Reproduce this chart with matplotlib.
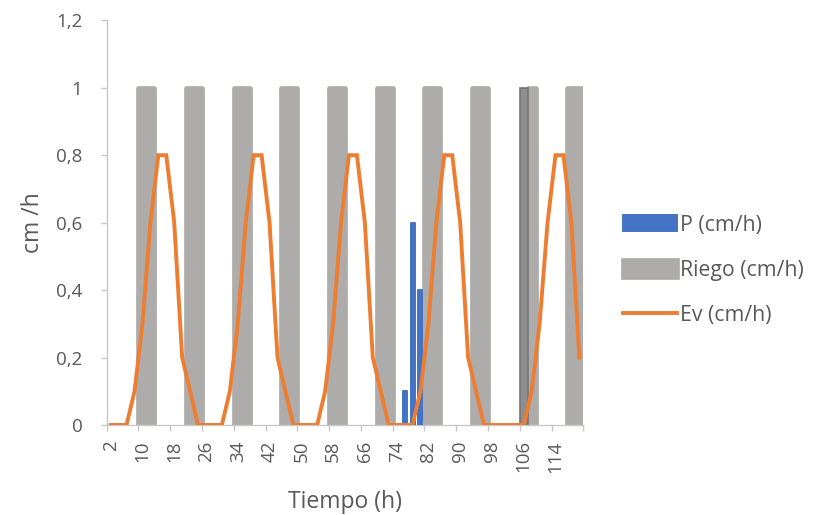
import numpy as np
import matplotlib
matplotlib.use("Agg")
import matplotlib.pyplot as plt
from matplotlib.ticker import FixedLocator, FuncFormatter

plt.rcParams['font.family'] = ['Open Sans', 'DejaVu Sans']

# Tiempo (h): one category every 2 h
tiempo = [2, 4, 6, 8, 10, 12, 14, 16, 18, 20, 22, 24,
          26, 28, 30, 32, 34, 36, 38, 40, 42, 44, 46, 48,
          50, 52, 54, 56, 58, 60, 62, 64, 66, 68, 70, 72,
          74, 76, 78, 80, 82, 84, 86, 88, 90, 92, 94, 96,
          98, 100, 102, 104, 106, 108, 110, 112, 114, 116, 118, 120]

p_cmh = [0, 0, 0, 0, 0, 0, 0, 0, 0, 0, 0, 0,
         0, 0, 0, 0, 0, 0, 0, 0, 0, 0, 0, 0,
         0, 0, 0, 0, 0, 0, 0, 0, 0, 0, 0, 0,
         0, 0.1, 0.6, 0.4, 0, 0, 0, 0, 0, 0, 0, 0,
         0, 0, 0, 0, 0, 0, 0, 0, 0, 0, 0, 0]

riego_cmh = [0, 0, 0, 0, 1, 1, 0, 0, 0, 0, 1, 1,
             0, 0, 0, 0, 1, 1, 0, 0, 0, 0, 1, 1,
             0, 0, 0, 0, 1, 1, 0, 0, 0, 0, 1, 1,
             0, 0, 0, 0, 1, 1, 0, 0, 0, 0, 1, 1,
             0, 0, 0, 0, 1, 1, 0, 0, 0, 0, 1, 1]

ev_cmh = [0, 0, 0, 0.1, 0.3, 0.6, 0.8, 0.8, 0.6, 0.2, 0.1, 0,
          0, 0, 0, 0.1, 0.3, 0.6, 0.8, 0.8, 0.6, 0.2, 0.1, 0,
          0, 0, 0, 0.1, 0.3, 0.6, 0.8, 0.8, 0.6, 0.2, 0.1, 0,
          0, 0, 0, 0.1, 0.3, 0.6, 0.8, 0.8, 0.6, 0.2, 0.1, 0,
          0, 0, 0, 0, 0, 0.1, 0.3, 0.6, 0.8, 0.8, 0.6, 0.2]

x_labels = [2, 10, 18, 26, 34, 42, 50, 58, 66, 74, 82, 90, 98, 106, 114]

BLUE = "#4472C4"
GREY = "#AEABAB"
ORANGE = "#ED7D31"
TXT = "#595959"
AXC = "#C8C8C8"

t = np.array(tiempo)
p = np.array(p_cmh)
r = np.array(riego_cmh)

fig = plt.figure(figsize=(8.19, 5.15), dpi=100)
ax = fig.add_axes([0.1303, 0.1748, 0.5819, 0.7858])

# only non-zero bars, otherwise the thick edges leave marks on the axis
rb = ax.bar(t[r > 0], r[r > 0], width=2.0, color=GREY, edgecolor=GREY,
            linewidth=3.4, joinstyle="round", label="Riego (cm/h)", zorder=2)
# the one highlighted (darker) bar at 106 h
for bar, tv in zip(rb, t[r > 0]):
    if tv == 106:
        bar.set_facecolor("#8E8E8E")
        bar.set_edgecolor("#747474")
        bar.set_linewidth(1.2)
        bar.set_joinstyle("miter")
        bar.set_zorder(2.5)

pb = ax.bar(t[p > 0], p[p > 0], width=1.0, color=BLUE, edgecolor=BLUE,
            linewidth=1.4, joinstyle="round", label="P (cm/h)", zorder=3)

ax.plot(tiempo, ev_cmh, color=ORANGE, linewidth=2.8, solid_joinstyle="miter",
        label="Ev (cm/h)", zorder=4)

ax.set_xlim(1, 121)
ax.set_ylim(0, 1.2)

ax.xaxis.set_major_locator(FixedLocator(x_labels))
ax.xaxis.set_minor_locator(FixedLocator(np.arange(1, 122, 8)))
ax.set_xticklabels([str(v) for v in x_labels], rotation=90)
ax.tick_params(axis="x", which="major", length=0, pad=11, labelsize=13.5,
               labelcolor=TXT)
ax.tick_params(axis="x", which="minor", length=4, width=1, color=AXC)

ax.set_yticks(np.arange(0, 1.21, 0.2))
ax.yaxis.set_major_formatter(FuncFormatter(lambda v, _: f"{v:g}".replace(".", ",")))
ax.tick_params(axis="y", length=4.5, width=1, color=AXC, pad=13,
               labelsize=13.5, labelcolor=TXT)

for s in ["top", "right"]:
    ax.spines[s].set_visible(False)
for s in ["left", "bottom"]:
    ax.spines[s].set_color(AXC)
    ax.spines[s].set_linewidth(1)

ax.set_xlabel("Tiempo (h)", fontsize=16.5, color=TXT, va="center")
ax.xaxis.set_label_coords(0.5, -0.19)
ax.set_ylabel("cm /h", fontsize=16.5, color=TXT, va="center")
ax.yaxis.set_label_coords(-0.155, 0.5)

leg = fig.legend(handles=[pb, rb, ax.lines[0]],
                 labels=["P (cm/h)", "Riego (cm/h)", "Ev (cm/h)"],
                 loc="center left", bbox_to_anchor=(0.7607, 0.4748),
                 frameon=False, fontsize=15.3, handlelength=2.55,
                 handleheight=0.8, handletextpad=0.12, labelspacing=1.14,
                 borderpad=0, borderaxespad=0)
for txt in leg.get_texts():
    txt.set_color(TXT)

fig.savefig("out.png", dpi=100)
